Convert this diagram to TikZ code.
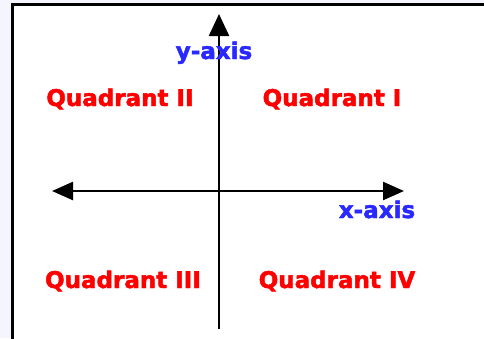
\documentclass[tikz,border=0pt]{standalone}
\usepackage{fontspec}
\setmainfont{DejaVu Sans}
\newfontfamily\labelfont[FakeBold=2]{DejaVu Sans Bold}
\usepackage{xcolor}
\usetikzlibrary{arrows.meta}
\usetikzlibrary{backgrounds}
\pgfdeclarelayer{edgelayer}
\pgfdeclarelayer{nodelayer}
\pgfsetlayers{background,edgelayer,nodelayer,main}
\definecolor{pagebg}{RGB}{244,245,253}
\definecolor{quadred}{RGB}{255,0,0}
\definecolor{axisblue}{RGB}{40,40,255}
\tikzstyle{none}=[inner sep=0mm]
\tikzstyle{quad}=[inner sep=0mm,anchor=base,text=quadred,font=\labelfont\fontsize{23}{25}\selectfont]
\tikzstyle{axlabel}=[inner sep=0mm,anchor=base,text=axisblue,font=\labelfont\fontsize{23}{25}\selectfont]
\tikzstyle{axis}=[line width=2.4pt,-{Triangle[length=22pt,width=20pt]}]
\tikzstyle{bothaxis}=[line width=2.4pt,{Triangle[length=21pt,width=18pt]}-{Triangle[length=21pt,width=18pt]}]

\begin{document}
\begin{tikzpicture}[x=1pt,y=-1pt]
	\useasboundingbox (0,0) rectangle (484,338);
	\begin{pgfonlayer}{background}
		\fill[pagebg] (0,0) rectangle (484,338);
		\fill[white] (12,4) rectangle (490,345);
		\draw[line width=3pt] (12,345) -- (12,4) -- (490,4);
	\end{pgfonlayer}
	\begin{pgfonlayer}{nodelayer}
		\node [style=none] (1) at (219, 14) {};
		\node [style=none] (2) at (219, 329) {};
		\node [style=none] (3) at (52, 191) {};
		\node [style=none] (4) at (404, 191) {};
		\node [style=axlabel] (5) at (214, 59) {y-axis};
		\node [style=axlabel] (6) at (377, 218) {x-axis};
		\node [style=quad] (7) at (332, 106) {Quadrant I};
		\node [style=quad] (8) at (120, 106) {Quadrant II};
		\node [style=quad] (9) at (123, 288) {Quadrant III};
		\node [style=quad] (10) at (337, 288) {Quadrant IV};
	\end{pgfonlayer}
	\begin{pgfonlayer}{edgelayer}
		\draw[style=axis] (2.center) to (1.center);
		\draw[style=bothaxis] (3.center) to (4.center);
	\end{pgfonlayer}
\end{tikzpicture}
\end{document}
